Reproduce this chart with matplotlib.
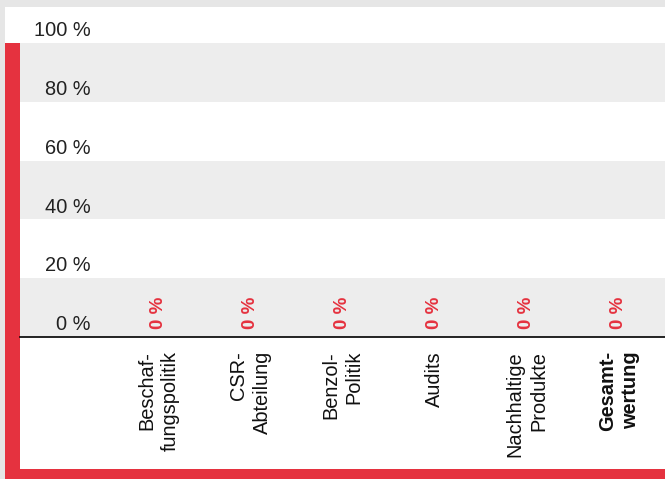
import matplotlib.pyplot as plt
from matplotlib.patches import Rectangle

kategorien = ["Beschaf-\nfungspolitik", "CSR-\nAbteilung", "Benzol-\nPolitik",
              "Audits", "Nachhaltige\nProdukte", "Gesamt-\nwertung"]
werte = [0, 0, 0, 0, 0, 0]
y_ticks = [0, 20, 40, 60, 80, 100]
y_labels = ["0 %", "20 %", "40 %", "60 %", "80 %", "100 %"]

rot = "#e5323f"
grau_band = "#ededed"
grau_rand = "#e6e6e6"

plt.rcParams['font.family'] = ['Liberation Sans', 'DejaVu Sans']

W, H = 665, 479
fig = plt.figure(figsize=(W / 100, H / 100), dpi=100, facecolor=grau_rand)

# weisse Flaeche und roter Rahmen
fig.patches.append(Rectangle((5 / W, 0), 660 / W, 472 / H, transform=fig.transFigure,
                             facecolor="white", edgecolor="none", zorder=-2))
fig.patches.append(Rectangle((5 / W, 0), 15 / W, 436 / H, transform=fig.transFigure,
                             facecolor=rot, edgecolor="none", zorder=-1))
fig.patches.append(Rectangle((5 / W, 0), 660 / W, 10 / H, transform=fig.transFigure,
                             facecolor=rot, edgecolor="none", zorder=-1))

ax = fig.add_axes([20 / W, 142 / H, 645 / W, 330 / H])
ax.set_zorder(2)
ax.set_facecolor("none")
ax.set_xlim(-1.5, 5.5)
ax.set_ylim(0, 112.2)

# graue Baender
for i in range(0, len(y_ticks) - 1, 2):
    ax.axhspan(y_ticks[i], y_ticks[i + 1], color=grau_band, lw=0, zorder=0)

ax.bar(range(len(werte)), werte, width=0.5, color=rot, zorder=2)

for sp in ["top", "right", "left"]:
    ax.spines[sp].set_visible(False)
ax.spines["bottom"].set_linewidth(1.2)
ax.spines["bottom"].set_color("black")
ax.spines["bottom"].set_zorder(3)

ax.set_yticks([])
ytrans = ax.get_yaxis_transform()
for t, lab in zip(y_ticks, y_labels):
    ax.text(0.11, t + 2.3, lab, transform=ytrans, ha="right", va="baseline",
            fontsize=14.4, color="#222222")

ax.set_xticks(range(len(kategorien)))
ax.set_xticklabels(kategorien, rotation=90, ha="center", va="top",
                   multialignment="right", fontsize=14.4, color="#111111",
                   linespacing=1.3)
ax.get_xticklabels()[-1].set_fontweight("bold")
ax.tick_params(axis="x", length=0, pad=10)

for i, v in enumerate(werte):
    ax.annotate(f"{v} %", (i, v), xytext=(0, 5.5), textcoords="offset points",
                rotation=90, ha="center", va="bottom", fontsize=13.5,
                fontweight="bold", color=rot)

fig.savefig("out.png", dpi=100, facecolor=fig.get_facecolor())
